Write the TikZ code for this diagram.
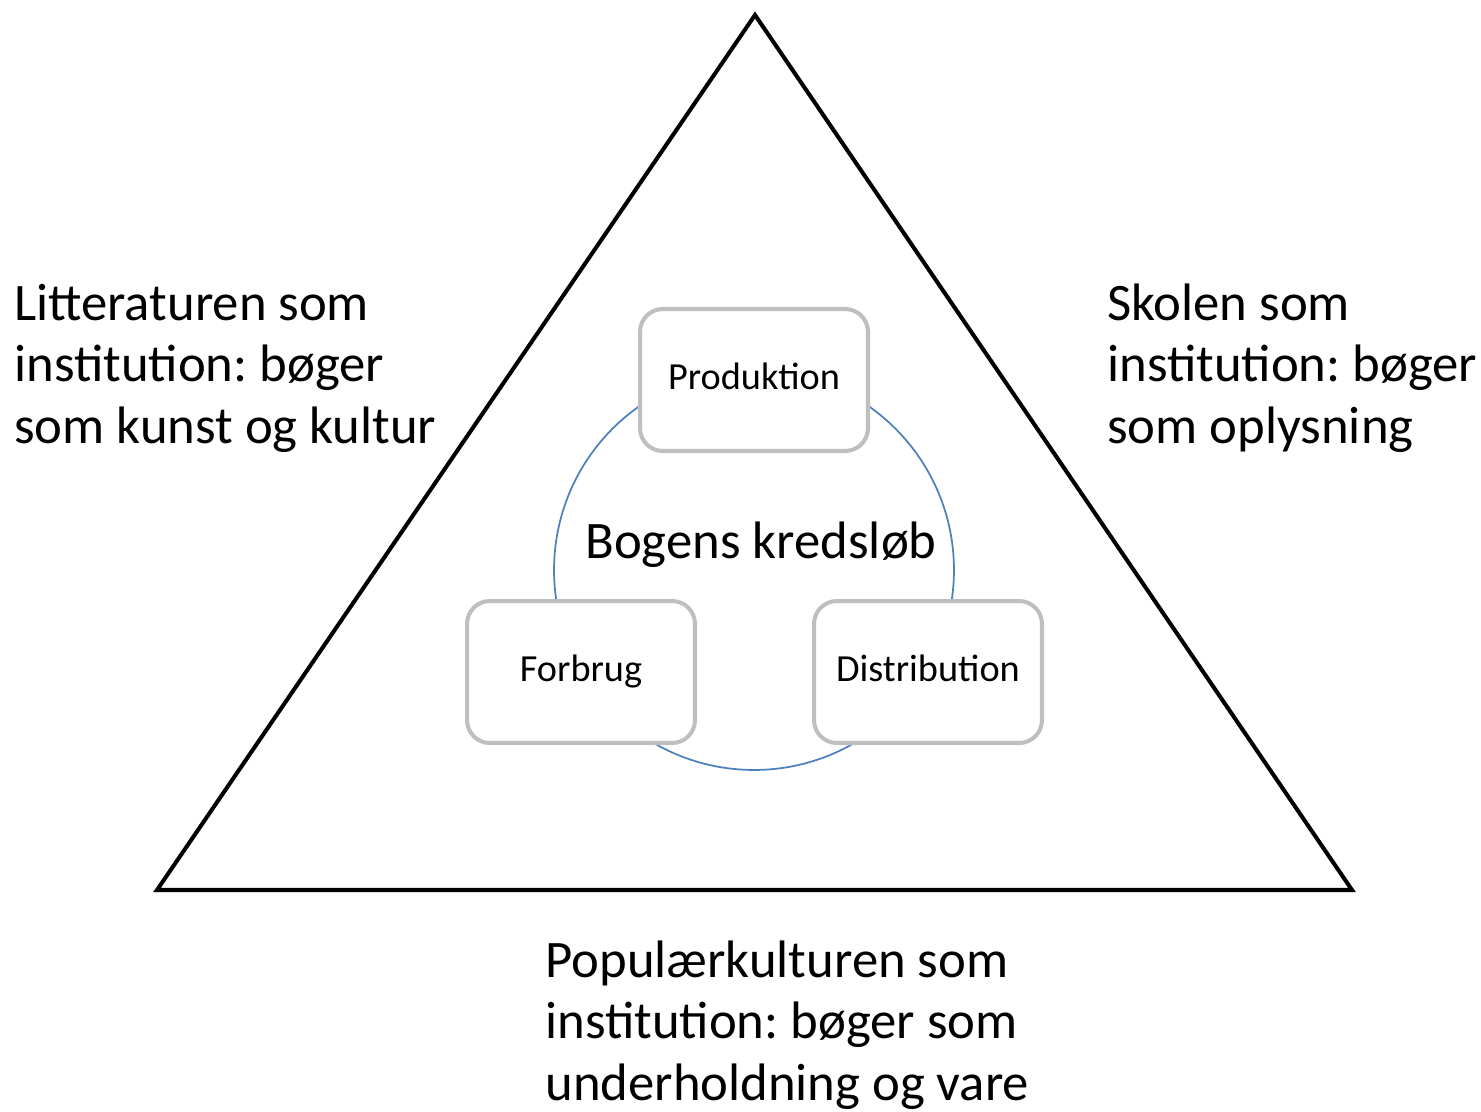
\documentclass[tikz,border=0pt]{standalone}
\usepackage{fontspec}
\setmainfont{Carlito}
\frenchspacing
\definecolor{ringblue}{RGB}{79,129,189}
\definecolor{boxgray}{RGB}{191,191,191}
\tikzset{
  stage/.style={draw=boxgray, line width=2.3pt, fill=white, rounded corners=13pt,
    minimum width=4.56cm, minimum height=2.84cm, font=\fontsize{21.8}{26}\selectfont,
    text height=2.6ex, text depth=.25ex},
  inst/.style={anchor=base west, align=left, inner sep=0pt, font=\fontsize{30}{35}\selectfont}
}
\begin{document}
\begin{tikzpicture}[x=0.02cm, y=-0.02cm]
\useasboundingbox (0,0) rectangle (1481,1112);
% triangle
\coordinate (top) at (755,15);
\coordinate (bl) at (157,890);
\coordinate (br) at (1352,890);
\draw[line width=2.3pt, line join=miter] (top)--(br)--(bl)--cycle;
% the circle
\node[draw=ringblue, line width=1pt, circle, minimum size=8cm, inner sep=0pt] (ring) at (754,570) {};
\node[font=\fontsize{30}{35}\selectfont, inner sep=0pt, anchor=base] (title) at (761,558) {Bogens kredsløb};
\node[stage] (prod) at (754,380) {Produktion};
\node[stage] (forbrug) at (581,672) {Forbrug};
\node[stage] (distr) at (928,672) {Distribution};
% labels (anchored on last line)
\node[inst] (litt) at (14,443) {Litteraturen som\\institution: bøger\\som kunst og kultur};
\node[inst] (skole) at (1107,443) {Skolen som\\institution: bøger\\som oplysning};
\node[inst] (pop) at (545,1100) {Populærkulturen som\\institution: bøger som\\underholdning og vare};
\end{tikzpicture}
\end{document}
